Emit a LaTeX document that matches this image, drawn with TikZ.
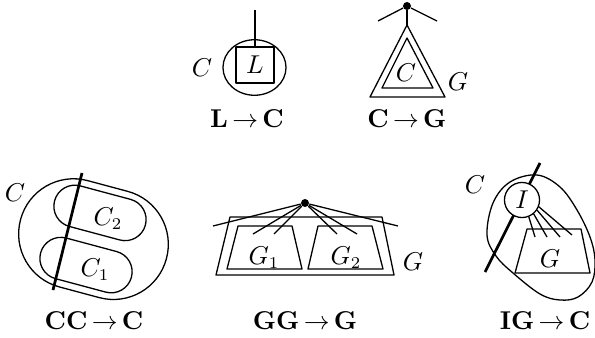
\documentclass[tikz,border=0pt]{standalone}
\usetikzlibrary{shapes.geometric}
\begin{document}
\begin{tikzpicture}[x=0.425pt,y=-0.425pt,
  ln/.style={line width=0.55pt},
  thk/.style={line width=1.15pt},
  txt/.style={inner sep=0pt,font=\fontsize{10.5}{12}\selectfont},
  dotn/.style={circle,fill=black,inner sep=0pt,minimum size=3.4pt},
  line join=round]
\useasboundingbox (0,0) rectangle (595,337);

% ---------- L -> C ----------
\node[ellipse,draw,ln,inner sep=0pt,minimum width=26.8pt,minimum height=23.6pt] (lcell) at (254.5,67.5) {};
\node[draw,ln,txt,minimum width=16.1pt,minimum height=15.3pt] (lbox) at (255,65) {$L$};
\coordinate (lctop) at (255,10);
\draw[ln] (lctop) -- (lbox.north);
\node[txt] (lcC) at (202,68) {$C$};
\node[txt] (lclab) at (247,119) {$\mathbf{L}\,{\to}\,\mathbf{C}$};

% ---------- C -> G ----------
\node[dotn] (cgdot) at (407,6) {};
\coordinate (cgl) at (378,21);
\coordinate (cgr) at (437,21);
\coordinate (cgap) at (407,25);
\coordinate (cgbl) at (370,97);
\coordinate (cgbr) at (445,97);
\coordinate (cgiap) at (407,38);
\coordinate (cgibl) at (382,88);
\coordinate (cgibr) at (433,88);
\draw[ln] (cgdot) -- (cgl);
\draw[ln] (cgdot) -- (cgr);
\draw[ln] (cgdot) -- (cgap);
\draw[ln] (cgap) -- (cgbl) -- (cgbr) -- cycle;
\draw[ln] (cgiap) -- (cgibl) -- (cgibr) -- cycle;
\node[txt] (cgC) at (406,73) {$C$};
\node[txt] (cgG) at (458,82) {$G$};
\node[txt] (cglab) at (407,119) {$\mathbf{C}\,{\to}\,\mathbf{G}$};

% ---------- CC -> C ----------
\begin{scope}[shift={(93,239)},rotate=-15]
  \draw[ln,rounded corners=23.3pt] (-75,-55) rectangle (76,55);
  \draw[ln,rounded corners=8.9pt] (-47,-48) rectangle (47,-6);
  \draw[ln,rounded corners=8.9pt] (-47,6) rectangle (47,48);
\end{scope}
\coordinate (ccta) at (82,173);
\coordinate (cctb) at (53,290);
\draw[thk] (ccta) -- (cctb);
\node[txt] (ccC) at (15,193) {$C$};
\node[txt] (ccC2) at (108,219) {$C_2$};
\node[txt] (ccC1) at (95,270) {$C_1$};
\node[txt] (cclab) at (94,321) {$\mathbf{CC}\,{\to}\,\mathbf{C}$};

% ---------- GG -> G ----------
\draw[ln] (230,217) -- (382,217) -- (394,275) -- (216,275) -- cycle;
\draw[ln] (238,226) -- (292,226) -- (302,269) -- (227,269) -- cycle;
\draw[ln] (318,226) -- (372,226) -- (383,269) -- (308,269) -- cycle;
\node[dotn] (ggdot) at (305,203) {};
\coordinate (gga) at (213,226);
\coordinate (ggb) at (253,234);
\coordinate (ggc) at (274,234);
\coordinate (ggd) at (337,234);
\coordinate (gge) at (357,234);
\coordinate (ggf) at (398,226);
\foreach \p in {gga,ggb,ggc,ggd,gge,ggf} \draw[ln] (ggdot) -- (\p);
\node[txt] (ggG1) at (264,258) {$G_1$};
\node[txt] (ggG2) at (346,258) {$G_2$};
\node[txt] (ggG) at (413,262) {$G$};
\node[txt] (gglab) at (305,321) {$\mathbf{GG}\,{\to}\,\mathbf{G}$};

% ---------- IG -> C ----------
\draw[ln] plot[smooth cycle,tension=0.6] coordinates {(510,182) (537,175) (560,187) (577,210) (590,237) (595,260) (592,282) (578,297) (560,300) (540,294) (513,273) (496,256) (487,235) (493,203)};
\coordinate (igta) at (540,163);
\coordinate (igtb) at (485,272);
\draw[thk] (igta) -- (igtb);
\draw[ln] (527,229) -- (581,229) -- (590,273) -- (515,273) -- cycle;
\node[circle,draw,ln,fill=white,inner sep=0pt,minimum size=14.9pt,font=\fontsize{10.5}{12}\selectfont] (igI) at (522,200) {$I$};
\coordinate (ig1) at (535,237);
\coordinate (ig2) at (547,237);
\coordinate (ig3) at (560,237);
\coordinate (ig4) at (572,235);
\draw[ln] (igI.-68) -- (ig1);
\draw[ln] (igI.-50) -- (ig2);
\draw[ln] (igI.-34) -- (ig3);
\draw[ln] (igI.-22) -- (ig4);
\node[txt] (igC) at (475,185) {$C$};
\node[txt] (igG) at (550,259) {$G$};
\node[txt] (iglab) at (545,321) {$\mathbf{IG}\,{\to}\,\mathbf{C}$};
\end{tikzpicture}
\end{document}
